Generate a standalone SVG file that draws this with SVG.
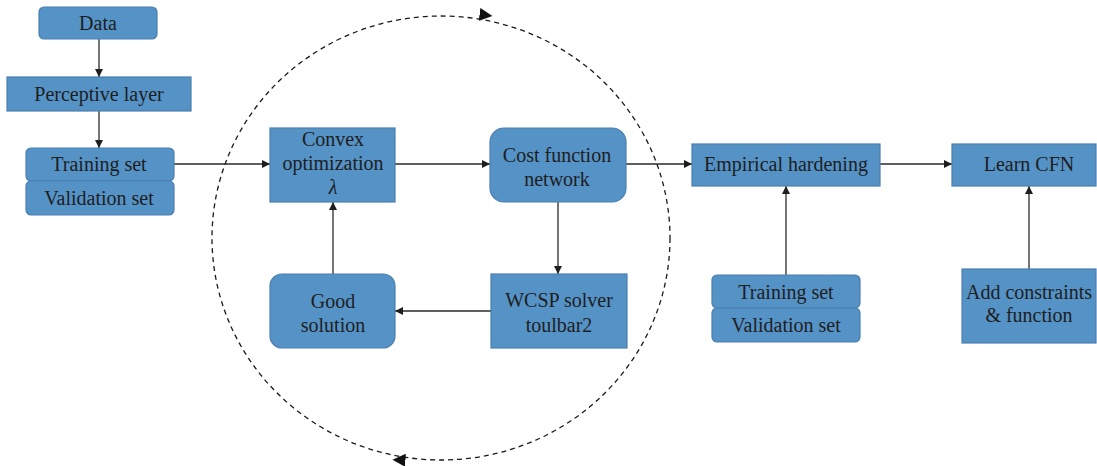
<svg xmlns="http://www.w3.org/2000/svg" width="1097" height="466" viewBox="0 0 1097 466">
<style>
.box{fill:#5592C6;stroke:#4A7FAF;stroke-width:1.2}
.t{font-family:"Liberation Serif","Times New Roman",serif;font-size:20px;fill:#1e1e1e;text-anchor:middle;dominant-baseline:central}
.c{stroke:#2a2a2a;stroke-width:1.3;fill:none}
.d{stroke:#1a1a1a;stroke-width:1.3;fill:none;stroke-dasharray:5 4}
</style>
<defs>
<marker id="a" viewBox="0 0 10 10" refX="10" refY="5" markerWidth="8" markerHeight="8" markerUnits="userSpaceOnUse" orient="auto"><path d="M0,0L10,5L0,10z" fill="#1e1e1e"/></marker>
<marker id="b" viewBox="0 0 10 10" refX="5" refY="5" markerWidth="13" markerHeight="13" markerUnits="userSpaceOnUse" orient="auto"><path d="M0,0L10,5L0,10z" fill="#111"/></marker>
</defs>
<rect width="1097" height="466" fill="#fff"/>
<g id="connectors">
<ellipse class="d" cx="441" cy="238" rx="229" ry="222"/>
<path d="M478,14.2 L486,15.2" stroke="none" fill="none" marker-end="url(#b)"/>
<path d="M407,460.4 L399,460" stroke="none" fill="none" marker-end="url(#b)"/>
<line class="c" x1="99" y1="39" x2="99" y2="77" marker-end="url(#a)"/>
<line class="c" x1="99" y1="111" x2="99" y2="148" marker-end="url(#a)"/>
<line class="c" x1="174" y1="164" x2="270" y2="164" marker-end="url(#a)"/>
<line class="c" x1="395" y1="164" x2="490" y2="164" marker-end="url(#a)"/>
<line class="c" x1="626" y1="164" x2="692" y2="164" marker-end="url(#a)"/>
<line class="c" x1="558" y1="202" x2="558" y2="274" marker-end="url(#a)"/>
<line class="c" x1="491" y1="311" x2="395" y2="311" marker-end="url(#a)"/>
<line class="c" x1="333" y1="274" x2="333" y2="202" marker-end="url(#a)"/>
<line class="c" x1="880" y1="164" x2="952" y2="164" marker-end="url(#a)"/>
<line class="c" x1="786" y1="275" x2="786" y2="186" marker-end="url(#a)"/>
<line class="c" x1="1029" y1="269" x2="1029" y2="186" marker-end="url(#a)"/>
</g>
<g id="data"><rect class="box" x="39" y="7" width="118" height="32" rx="5"/><text class="t" x="98" y="23">Data</text></g>
<g id="perceptive"><rect class="box" x="7" y="77" width="184" height="34"/><text class="t" x="99" y="94">Perceptive layer</text></g>
<g id="training1"><rect class="box" x="26" y="148" width="148" height="33" rx="5"/><text class="t" x="99" y="164">Training set</text></g>
<g id="validation1"><rect class="box" x="26" y="181" width="148" height="34" rx="5"/><text class="t" x="99" y="198">Validation set</text></g>
<g id="convex"><rect class="box" x="270" y="128" width="125" height="74"/><text class="t" x="333" y="139">Convex</text><text class="t" x="333" y="163">optimization</text><text class="t" x="333" y="187" font-style="italic">λ</text></g>
<g id="cost"><rect class="box" x="490" y="128" width="136" height="74" rx="14"/><text class="t" x="557" y="155">Cost function</text><text class="t" x="557" y="179">network</text></g>
<g id="wcsp"><rect class="box" x="491" y="274" width="136" height="74"/><text class="t" x="559" y="300">WCSP solver</text><text class="t" x="559" y="325">toulbar2</text></g>
<g id="good"><rect class="box" x="270" y="274" width="125" height="74" rx="12"/><text class="t" x="333" y="301">Good</text><text class="t" x="333" y="325">solution</text></g>
<g id="empirical"><rect class="box" x="692" y="144" width="188" height="42"/><text class="t" x="786" y="164">Empirical hardening</text></g>
<g id="learn"><rect class="box" x="952" y="144" width="144" height="42"/><text class="t" x="1029" y="164">Learn CFN</text></g>
<g id="training2"><rect class="box" x="712" y="275" width="148" height="33" rx="5"/><text class="t" x="786" y="292">Training set</text></g>
<g id="validation2"><rect class="box" x="712" y="308" width="148" height="34" rx="5"/><text class="t" x="786" y="325">Validation set</text></g>
<g id="add"><rect class="box" x="962" y="269" width="134" height="74"/><text class="t" x="1029" y="292">Add constraints</text><text class="t" x="1029" y="315">&amp; function</text></g>
</svg>
